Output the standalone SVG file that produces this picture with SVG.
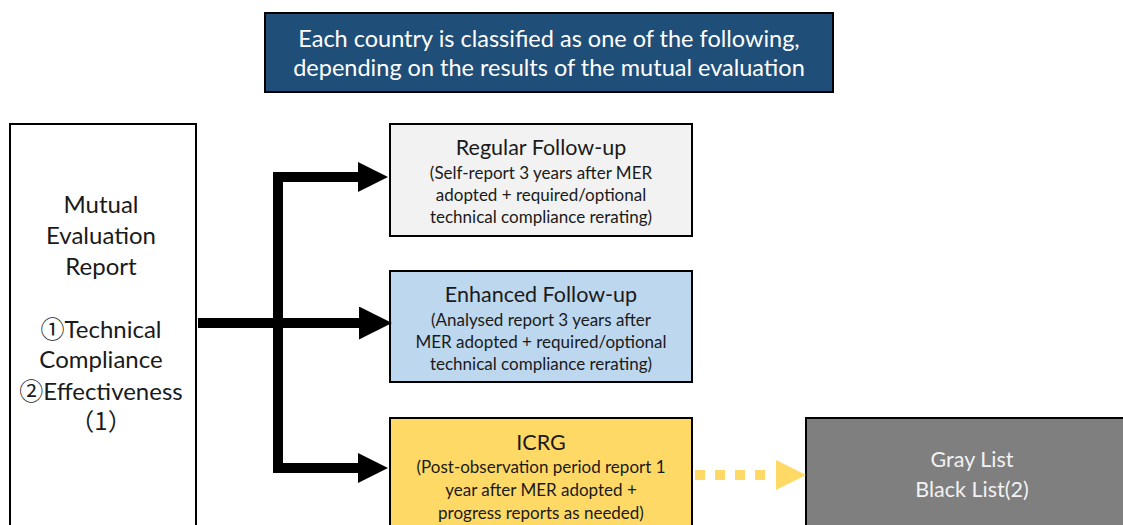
<svg xmlns="http://www.w3.org/2000/svg" width="1123" height="525" viewBox="0 0 1123 525">
<style>
text{font-family:Lato,"Liberation Sans","Noto Sans CJK JP",sans-serif;text-anchor:middle;}
.box{stroke:#000;stroke-width:2;}
.t{font-size:21.5px;fill:#1a1a1a;}
.s{font-size:17px;fill:#1a1a1a;}
.m{font-size:24px;fill:#1a1a1a;}
.h{font-size:23.5px;fill:#fff;}
.g{font-size:21.5px;fill:#f2f2f2;}
.c{font-family:"Noto Sans CJK JP",sans-serif;}
</style>
<defs>
<marker id="ah" markerWidth="3.3" markerHeight="3.3" refX="0" refY="1.65" orient="auto" markerUnits="strokeWidth">
<path d="M0,0 L3.3,1.65 L0,3.3 Z" fill="#000"/>
</marker>
</defs>
<rect width="1123" height="525" fill="#fff"/>
<g id="header">
<rect class="box" x="265" y="13" width="568" height="79" fill="#1f4e79"/>
<text class="h" x="549" y="47">Each country is classified as one of the following,</text>
<text class="h" x="549" y="76">depending on the results of the mutual evaluation</text>
</g>
<g id="mer">
<rect class="box" x="10" y="124" width="186" height="420" fill="#fff"/>
<text class="m" x="101" y="213">Mutual</text>
<text class="m" x="101" y="244">Evaluation</text>
<text class="m" x="101" y="275">Report</text>
<text class="m" x="101" y="338"><tspan class="c">①</tspan>Technical</text>
<text class="m" x="101" y="368">Compliance</text>
<text class="m" x="101" y="400"><tspan class="c">②</tspan>Effectiveness</text>
<text class="m c" x="101" y="430">（1）</text>
</g>
<g id="regular">
<rect class="box" x="390" y="124" width="302" height="112" fill="#f2f2f2"/>
<text class="t" x="541" y="155">Regular Follow-up</text>
<text class="s" x="541" y="179">(Self-report 3 years after MER</text>
<text class="s" x="541" y="201">adopted + required/optional</text>
<text class="s" x="541" y="223">technical compliance rerating)</text>
</g>
<g id="enhanced">
<rect class="box" x="390" y="271" width="302" height="111" fill="#bdd7ee"/>
<text class="t" x="541" y="302">Enhanced Follow-up</text>
<text class="s" x="541" y="326">(Analysed report 3 years after</text>
<text class="s" x="541" y="348">MER adopted + required/optional</text>
<text class="s" x="541" y="370">technical compliance rerating)</text>
</g>
<g id="icrg">
<rect class="box" x="390" y="418" width="302" height="120" fill="#ffd966"/>
<text class="t" x="541" y="450">ICRG</text>
<text class="s" x="541" y="473">(Post-observation period report 1</text>
<text class="s" x="541" y="496">year after MER adopted +</text>
<text class="s" x="541" y="519">progress reports as needed)</text>
</g>
<g id="graylist">
<rect class="box" x="806" y="418" width="330" height="120" fill="#7f7f7f"/>
<text class="g" x="972" y="467">Gray List</text>
<text class="g" x="972" y="497">Black List(2)</text>
</g>
<g id="connectors">
<path d="M198,323 H359" stroke="#000" stroke-width="10" fill="none" marker-end="url(#ah)"/>
<path d="M359,177 H278 V468 H359" stroke="#000" stroke-width="10" fill="none"/>
<path d="M358,162 L388,177 L358,192 Z" fill="#000"/>
<path d="M358,453 L388,468 L358,483 Z" fill="#000"/>
<path d="M695,475 H770" stroke="#ffd966" stroke-width="10" stroke-dasharray="10,10" fill="none"/>
<path d="M776,460 L806,475 L776,490 Z" fill="#ffd966"/>
</g>
</svg>
